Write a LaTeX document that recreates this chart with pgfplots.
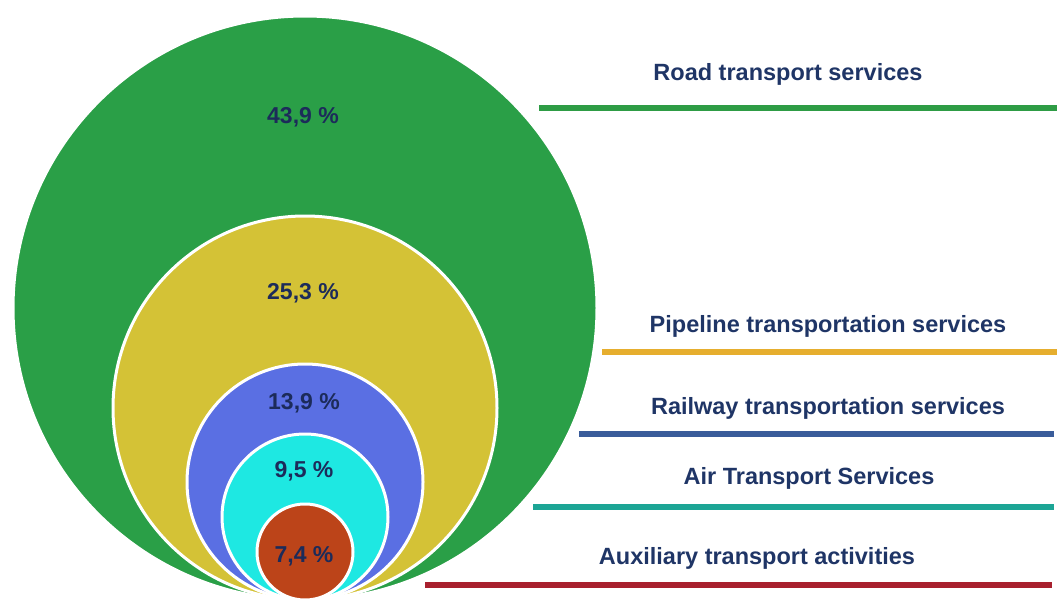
\documentclass[border=0pt]{standalone}
\usepackage{pgfplots}
\pgfplotsset{compat=1.18}
\usepackage{pgfplotstable}
\usepackage{fontspec}
\setmainfont{Liberation Sans}
\definecolor{cgreen}{HTML}{2A9F47}
\definecolor{cyellow}{HTML}{D4C236}
\definecolor{cblue}{HTML}{5A6FE3}
\definecolor{ccyan}{HTML}{1EE8E2}
\definecolor{cred}{HTML}{BC4419}
\definecolor{lgreen}{HTML}{2E9C45}
\definecolor{lorange}{HTML}{E6AE2E}
\definecolor{lblue}{HTML}{3A5C9A}
\definecolor{lteal}{HTML}{1CA595}
\definecolor{lred}{HTML}{A8202E}
\definecolor{navy}{HTML}{1F3566}
\definecolor{pnavy}{HTML}{1C2B5A}
% circles: centre x, centre y (pixels, y downwards), radius (pixels), share (%)
\pgfplotstableread{
x y r share cls
305 308 292 43.9 a
305 408 192 25.3 b
305 482 118 13.9 c
305 517 83 9.5 d
305 552 48 7.4 e
}\circles
\begin{document}
\begin{tikzpicture}
\begin{axis}[
  x=0.4pt, y=0.4pt, y dir=reverse,
  xmin=0, xmax=1057, ymin=0, ymax=608,
  hide axis, clip=false, scale only axis,
]
\addplot[scatter, only marks, mark=*, point meta=explicit symbolic,
  scatter/classes={
    a={fill=cgreen, draw=white, line width=1.2pt},
    b={fill=cyellow, draw=white, line width=1.2pt},
    c={fill=cblue, draw=white, line width=1.2pt},
    d={fill=ccyan, draw=white, line width=1.2pt},
    e={fill=cred, draw=white, line width=1.2pt}},
  visualization depends on={\thisrow{r} \as \rad},
  scatter/@pre marker code/.append style={/tikz/mark size=\rad*0.4pt},
] table[x=x, y=y, meta=cls] \circles;

\addplot[lgreen, line width=2.7pt] coordinates {(539,108) (1057,108)};
\addplot[lorange, line width=2.7pt] coordinates {(602,352) (1057,352)};
\addplot[lblue, line width=2.7pt] coordinates {(579,434) (1054,434)};
\addplot[lteal, line width=2.7pt] coordinates {(533,507) (1054,507)};
\addplot[lred, line width=2.7pt] coordinates {(425,585) (1052,585)};

\begin{scope}[every node/.style={font=\fontsize{9.4pt}{11pt}\selectfont\bfseries, text=navy, inner sep=0pt}]
\node at (axis cs:788,74) {Road transport services};
\node at (axis cs:828,326) {Pipeline transportation services};
\node at (axis cs:828,408) {Railway transportation services};
\node at (axis cs:809,478) {Air Transport Services};
\node at (axis cs:757,558) {Auxiliary transport activities};
\end{scope}
\coordinate (p1) at (axis cs:303,117);
\coordinate (p2) at (axis cs:303,293);
\coordinate (p3) at (axis cs:304,403);
\coordinate (p4) at (axis cs:304,471);
\coordinate (p5) at (axis cs:304,556);
\end{axis}
\begin{scope}[every node/.style={font=\fontsize{9.2pt}{11pt}\selectfont\bfseries, text=pnavy, inner sep=0pt}]
\node at (p1) {43,9 \%};
\node at (p2) {25,3 \%};
\node at (p3) {13,9 \%};
\node at (p4) {9,5 \%};
\node at (p5) {7,4 \%};
\end{scope}
\pgfresetboundingbox
\path (current axis.south west) rectangle (current axis.north east);
\end{tikzpicture}
\end{document}
